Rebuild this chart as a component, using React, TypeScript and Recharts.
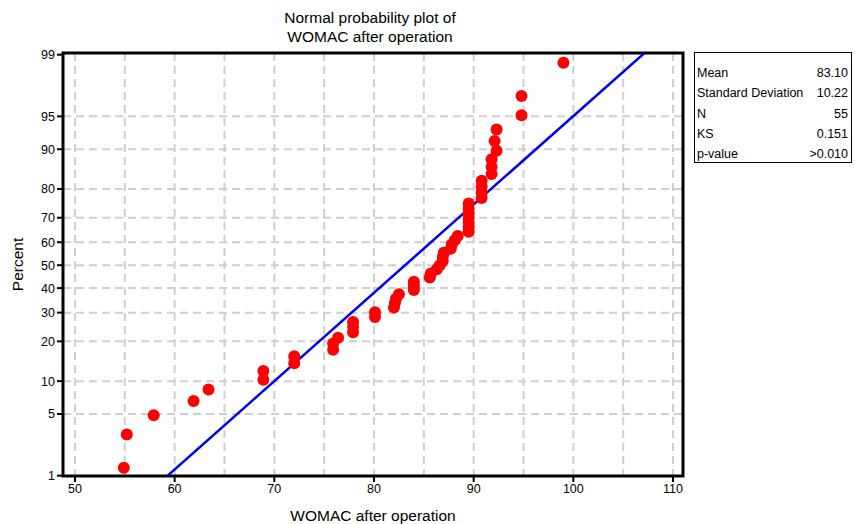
import {
  ComposedChart,
  Scatter,
  XAxis,
  YAxis,
  CartesianGrid,
  ReferenceArea,
} from 'recharts';

// WOMAC scores (sorted) and their plotted percent positions
const womac = [
  54.9, 55.2, 57.9, 61.9, 63.4, 68.9, 68.9, 72.0, 72.0, 75.9, 75.9, 76.4,
  77.9, 77.9, 77.9, 80.1, 80.1, 82.0, 82.1, 82.2, 82.5, 84.0, 84.0, 84.0,
  85.6, 85.7, 86.3, 86.6, 86.9, 86.9, 87.0, 87.7, 87.8, 88.1, 88.4, 89.5,
  89.5, 89.5, 89.5, 89.5, 89.5, 89.5, 90.8, 90.8, 90.8, 90.8, 91.8, 91.8,
  91.8, 92.3, 92.1, 92.3, 94.8, 94.8, 99.0,
];
const percent = [
  1.26, 3.07, 4.87, 6.68, 8.48, 10.29, 12.09, 13.9, 15.7, 17.51, 19.31, 21.12,
  22.92, 24.73, 26.53, 28.34, 30.14, 31.95, 33.75, 35.56, 37.36, 39.17, 40.97,
  42.78, 44.58, 46.39, 48.19, 50.0, 51.81, 53.61, 55.42, 57.22, 59.03, 60.83,
  62.64, 64.44, 66.25, 68.05, 69.86, 71.66, 73.47, 75.27, 77.08, 78.88, 80.69,
  82.49, 84.3, 86.1, 87.91, 89.71, 91.52, 93.32, 95.13, 96.93, 98.74,
];

// fitted normal line, read at its two ends
const fitX = [59.3, 107.1];
const fitPercent = [1, 99.04];

const percentTicks = [1, 5, 10, 20, 30, 40, 50, 60, 70, 80, 90, 95, 99];
const xTicks = [50, 60, 70, 80, 90, 100, 110];
const xGrid = [50, 55, 60, 65, 70, 75, 80, 85, 90, 95, 100, 105, 110];

const stats = [
  ['Mean', '83.10'],
  ['Standard Deviation', '10.22'],
  ['N', '55'],
  ['KS', '0.151'],
  ['p-value', '>0.010'],
];

// inverse normal cdf (Acklam)
function probit(p: number) {
  const a = [-39.69683028665376, 220.9460984245205, -275.9285104469687, 138.357751867269, -30.66479806614716, 2.506628277459239];
  const b = [-54.47609879822406, 161.5858368580409, -155.6989798598866, 66.80131188771972, -13.28068155288572];
  const c = [-0.007784894002430293, -0.3223964580411365, -2.400758277161838, -2.549732539343734, 4.374664141464968, 2.938163982698783];
  const d = [0.007784695709041462, 0.3224671290700398, 2.445134137142996, 3.754408661907416];
  const pl = 0.02425;
  if (p < pl) {
    const q = Math.sqrt(-2 * Math.log(p));
    return (((((c[0] * q + c[1]) * q + c[2]) * q + c[3]) * q + c[4]) * q + c[5]) /
      ((((d[0] * q + d[1]) * q + d[2]) * q + d[3]) * q + 1);
  }
  if (p > 1 - pl) {
    const q = Math.sqrt(-2 * Math.log(1 - p));
    return -(((((c[0] * q + c[1]) * q + c[2]) * q + c[3]) * q + c[4]) * q + c[5]) /
      ((((d[0] * q + d[1]) * q + d[2]) * q + d[3]) * q + 1);
  }
  const q = p - 0.5;
  const r = q * q;
  return ((((((a[0] * r + a[1]) * r + a[2]) * r + a[3]) * r + a[4]) * r + a[5]) * q) /
    (((((b[0] * r + b[1]) * r + b[2]) * r + b[3]) * r + b[4]) * r + 1);
}

const zTicks = percentTicks.map((p) => probit(p / 100));
const points = womac.map((x, i) => ({ x, y: probit(percent[i] / 100) }));
const fitLine = fitX.map((x, i) => ({ x, y: probit(fitPercent[i] / 100) }));

const X_MIN = 48.8;
const X_MAX = 111;
const Y_MIN = -2.33;
const Y_MAX = 2.345;

const font = '"Liberation Sans", Arial, Helvetica, sans-serif';

const Dot = (props: any) => (
  <circle cx={props.cx} cy={props.cy} r={6} fill="#ff0000" />
);

const App = () => {
  return (
    <div style={{ position: 'absolute', left: 0, top: 0, width: 855, height: 524, fontFamily: font, color: '#000' }}>
      <div style={{ position: 'absolute', left: 220, top: 8, width: 300, textAlign: 'center', fontSize: 15.5, lineHeight: '19px' }}>
        Normal probability plot of
        <br />
        WOMAC after operation
      </div>
      <ComposedChart
        width={855}
        height={524}
        margin={{ top: 53, right: 172, bottom: 0, left: 0 }}
        style={{ fontFamily: font }}
      >
        <CartesianGrid
          stroke="#cfcfcf"
          strokeWidth={2}
          strokeDasharray="8 5"
          horizontalValues={zTicks.slice(1, -1)}
          verticalValues={xGrid}
        />
        <XAxis
          type="number"
          dataKey="x"
          domain={[X_MIN, X_MAX]}
          ticks={xTicks}
          allowDataOverflow
          axisLine={false}
          tickLine={{ stroke: '#000', strokeWidth: 2 }}
          tickSize={6}
          tick={{ fontSize: 12.5, fill: '#000' }}
          height={48}
          label={{ value: 'WOMAC after operation', position: 'insideBottom', offset: 3, fontSize: 15.5, fill: '#000' }}
        />
        <YAxis
          type="number"
          dataKey="y"
          domain={[Y_MIN, Y_MAX]}
          ticks={zTicks}
          allowDataOverflow
          interval={0}
          axisLine={false}
          tickLine={{ stroke: '#000', strokeWidth: 2 }}
          tickSize={6}
          tick={{ fontSize: 12.5, fill: '#000' }}
          tickFormatter={(v: number) => {
            const i = zTicks.findIndex((t) => Math.abs(t - v) < 1e-6);
            return i >= 0 ? String(percentTicks[i]) : '';
          }}
          width={63}
          label={{ value: 'Percent', angle: -90, position: 'insideLeft', offset: 17, fontSize: 15.5, fill: '#000', style: { textAnchor: 'middle' } }}
        />
        <Scatter
          data={fitLine}
          line={{ stroke: '#0000f0', strokeWidth: 2.5 }}
          shape={() => <g />}
          isAnimationActive={false}
        />
        <Scatter data={points} shape={Dot} isAnimationActive={false} />
        <ReferenceArea
          x1={X_MIN}
          x2={X_MAX}
          y1={Y_MIN}
          y2={Y_MAX}
          fill="none"
          stroke="#000"
          strokeWidth={3}
          ifOverflow="visible"
        />
      </ComposedChart>
      <div
        style={{
          position: 'absolute',
          left: 694,
          top: 52,
          width: 158,
          height: 111,
          border: '1px solid #000',
          boxSizing: 'border-box',
          paddingTop: 10,
          fontSize: 12.5,
        }}
      >
        {stats.map(([k, v]) => (
          <div key={k} style={{ display: 'flex', justifyContent: 'space-between', height: 20.3, lineHeight: '20px', padding: '0 3px 0 2px' }}>
            <span>{k}</span>
            <span>{v}</span>
          </div>
        ))}
      </div>
    </div>
  );
};

export default App;
